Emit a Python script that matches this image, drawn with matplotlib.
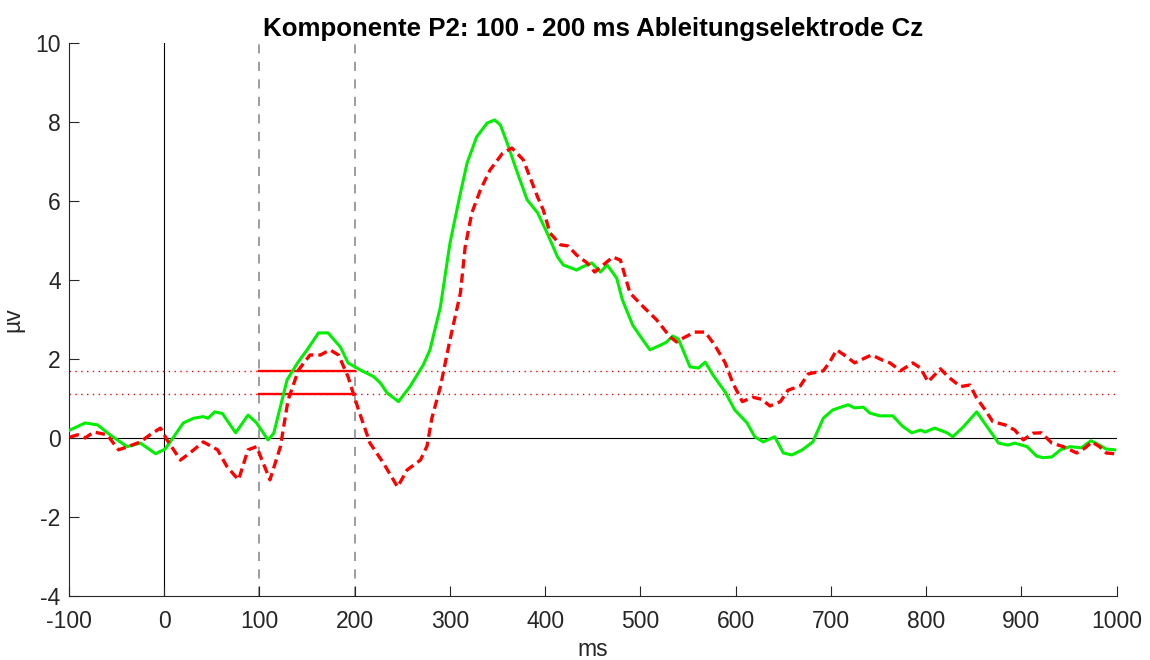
import numpy as np
import matplotlib
matplotlib.use('Agg')
import matplotlib.pyplot as plt

# ERP Cz, Bedingung 1 (gruen) und Bedingung 2 (rot)
green_ms = [-99, -83, -70, -57, -39, -25, -9, 1, 10, 20, 31, 41, 46, 53, 61, 75, 88, 97,
            109, 115, 129, 140, 150, 162, 172, 185, 193, 206, 220, 227, 234, 246, 258,
            272, 279, 290, 300, 311, 318, 328, 339, 347, 353, 360, 371, 381, 392, 402,
            413, 419, 433, 439, 449, 458, 465, 475, 481, 486, 492, 502, 510, 521, 527,
            534, 540, 552, 561, 568, 576, 589, 599, 612, 620, 629, 641, 650, 659, 670,
            681, 692, 702, 718, 725, 734, 741, 751, 765, 775, 785, 794, 799, 809, 822,
            828, 839, 853, 865, 876, 886, 893, 906, 916, 923, 932, 941, 951, 963, 973,
            982, 989, 998]
green_uv = [0.2, 0.38, 0.33, 0.08, -0.22, -0.13, -0.4, -0.28, 0.03, 0.38, 0.5, 0.54, 0.5,
            0.66, 0.62, 0.13, 0.58, 0.38, -0.05, 0.12, 1.47, 1.9, 2.23, 2.66, 2.66, 2.3,
            1.9, 1.72, 1.55, 1.39, 1.14, 0.92, 1.3, 1.85, 2.23, 3.32, 4.93, 6.2, 6.96,
            7.62, 7.97, 8.05, 7.92, 7.47, 6.7, 6.03, 5.7, 5.19, 4.58, 4.38, 4.25, 4.33,
            4.43, 4.2, 4.38, 4.05, 3.5, 3.2, 2.85, 2.5, 2.23, 2.35, 2.42, 2.58, 2.5, 1.8,
            1.77, 1.92, 1.6, 1.16, 0.71, 0.38, 0.03, -0.1, 0.03, -0.38, -0.43, -0.3, -0.1,
            0.5, 0.71, 0.84, 0.76, 0.78, 0.63, 0.56, 0.56, 0.3, 0.13, 0.2, 0.15, 0.25,
            0.13, 0.03, 0.28, 0.66, 0.25, -0.13, -0.18, -0.13, -0.22, -0.46, -0.5, -0.48,
            -0.3, -0.22, -0.25, -0.07, -0.18, -0.28, -0.3]

red_ms = [-99, -91, -83, -74, -60, -48, -38, -25, -15, -4, 3, 17, 27, 41, 56, 66, 78, 88,
          97, 111, 122, 130, 141, 153, 164, 174, 183, 193, 204, 216, 230, 245, 255, 269,
          276, 281, 290, 300, 311, 316, 323, 332, 342, 355, 365, 377, 384, 392, 398, 405,
          416, 424, 433, 444, 452, 461, 471, 479, 489, 503, 517, 531, 538, 545, 557, 568,
          578, 589, 597, 607, 618, 627, 636, 647, 655, 668, 676, 692, 699, 706, 714, 725,
          738, 743, 754, 762, 773, 786, 794, 802, 815, 823, 836, 846, 853, 862, 870, 883,
          893, 902, 912, 921, 932, 944, 958, 967, 974, 982, 989, 998]
red_uv = [0.02, 0.08, 0.0, 0.15, 0.08, -0.3, -0.22, -0.1, 0.08, 0.25, -0.05, -0.56, -0.38,
          -0.1, -0.3, -0.73, -1.06, -0.3, -0.22, -1.06, -0.22, 0.96, 1.72, 2.1, 2.1, 2.23,
          2.1, 1.55, 0.71, -0.13, -0.63, -1.24, -0.81, -0.56, -0.2, 0.5, 1.3, 2.48, 3.67,
          4.84, 5.7, 6.28, 6.78, 7.2, 7.34, 7.04, 6.6, 6.1, 5.77, 5.19, 4.89, 4.86, 4.63,
          4.43, 4.2, 4.38, 4.58, 4.5, 3.67, 3.32, 2.99, 2.56, 2.43, 2.53, 2.68, 2.68, 2.35,
          1.9, 1.39, 0.92, 1.03, 0.98, 0.81, 0.92, 1.21, 1.32, 1.62, 1.7, 1.93, 2.23, 2.1,
          1.9, 2.05, 2.1, 1.97, 1.9, 1.7, 1.9, 1.77, 1.42, 1.75, 1.55, 1.3, 1.34, 1.01,
          0.71, 0.41, 0.33, 0.2, -0.05, 0.12, 0.13, -0.13, -0.22, -0.38, -0.25, -0.1,
          -0.22, -0.38, -0.4]

# Mittelwerte im Fenster 100 - 200 ms
window = [100, 200]
green_mean = 1.70
red_mean = 1.11

x_ticks = list(range(-100, 1001, 100))
y_ticks = list(range(-4, 11, 2))

plt.rcParams['font.family'] = ['Liberation Sans', 'DejaVu Sans']
plt.rcParams['axes.unicode_minus'] = False
axis_col = '#262626'

fig = plt.figure(figsize=(11.5, 6.6), dpi=100)
ax = fig.add_axes([0.060, 0.097, 0.911, 0.838])

ax.axhline(0, color='black', lw=0.8, zorder=1)
ax.axvline(0, color='black', lw=0.8, zorder=1)
for w in window:
    ax.axvline(w, color='#8c8c8c', lw=1.2, linestyle=(0, (5.5, 5)), zorder=1)

ax.axhline(green_mean, color='red', lw=1.0, linestyle=(0, (1, 3.2)), zorder=1)
ax.axhline(red_mean, color='red', lw=1.0, linestyle=(0, (1, 3.2)), zorder=1)
ax.plot(window, [green_mean, green_mean], color='red', lw=1.7, zorder=2)
ax.plot(window, [red_mean, red_mean], color='red', lw=1.7, zorder=2)

ax.plot(green_ms, green_uv, color='#00ee00', lw=2.2, zorder=3)
ax.plot(red_ms, red_uv, color='red', lw=2.4, linestyle=(0, (2.8, 1.5)), zorder=4)

ax.set_xlim(-100, 1000)
ax.set_ylim(-4, 10)
ax.set_xticks(x_ticks)
ax.set_yticks(y_ticks)

for s in ['top', 'right']:
    ax.spines[s].set_visible(False)
for s in ['left', 'bottom']:
    ax.spines[s].set_color(axis_col)
    ax.spines[s].set_linewidth(0.8)

ax.tick_params(direction='in', length=7, width=0.8, color=axis_col,
               labelcolor=axis_col, labelsize=16.5)
ax.tick_params(axis='x', pad=10)
ax.tick_params(axis='y', pad=6)

ax.set_xlabel('ms', fontsize=16.5, color=axis_col, labelpad=4)
ax.set_ylabel('µv', fontsize=16.5, color=axis_col, labelpad=8)
ax.set_title('Komponente P2: 100 - 200 ms Ableitungselektrode Cz',
             fontsize=18.6, fontweight='bold', pad=5)

fig.savefig('out.png', dpi=100)
plt.close(fig)
